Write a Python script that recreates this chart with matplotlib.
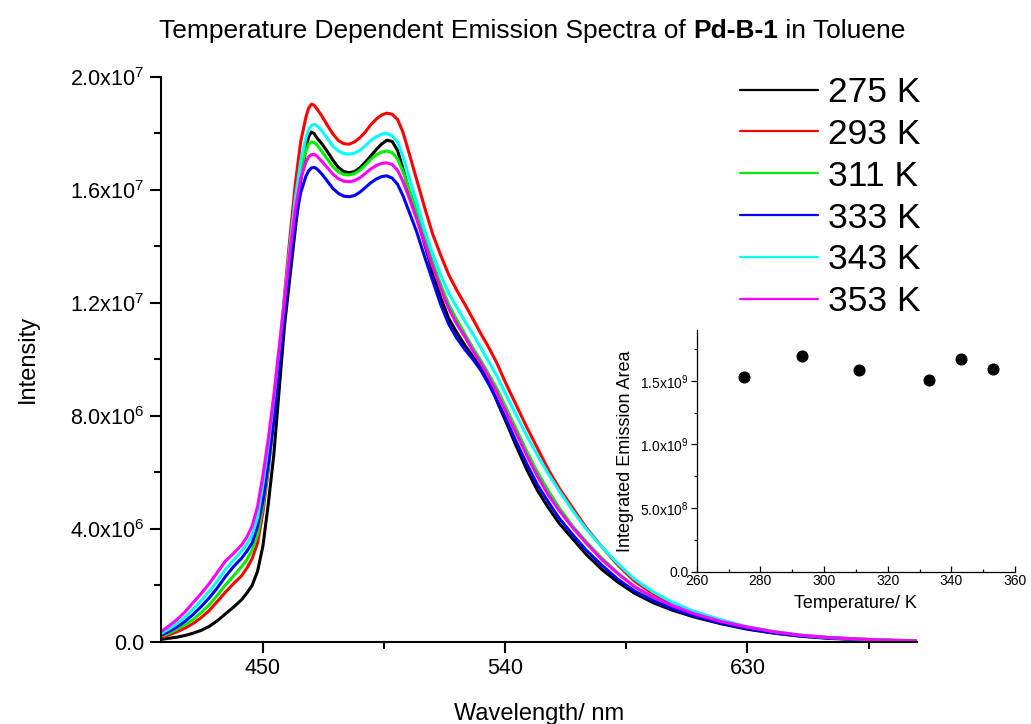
import matplotlib
matplotlib.use('Agg')
import matplotlib.pyplot as plt
from matplotlib.ticker import MultipleLocator
from matplotlib.offsetbox import TextArea, HPacker, AnchoredOffsetbox

plt.rcParams['font.family'] = ['Liberation Sans', 'DejaVu Sans']
plt.rcParams['mathtext.fontset'] = 'custom'
plt.rcParams['mathtext.rm'] = 'Liberation Sans'
plt.rcParams['mathtext.it'] = 'Liberation Sans:italic'
plt.rcParams['mathtext.bf'] = 'Liberation Sans:bold'
plt.rcParams['mathtext.sf'] = 'Liberation Sans'

# ---------------- data ----------------
wavelength = [412, 415, 418, 421, 424, 427, 430, 433, 436, 439,
              442, 444, 446, 448, 450, 452, 454, 456, 458, 460,
              462, 464, 466, 467, 468, 469, 470, 472, 474, 476,
              478, 480, 482, 484, 486, 488, 490, 492, 494, 496,
              498, 500, 502, 504, 507, 510, 513, 516, 519, 522,
              525, 528, 531, 534, 537, 540, 544, 548, 552, 556,
              560, 565, 570, 576, 582, 588, 595, 602, 610, 620,
              630, 640, 650, 660, 670, 680, 693]

# intensities in units of 1e6
i_275 = [0.08, 0.12, 0.16, 0.22, 0.30, 0.40, 0.54, 0.74, 0.98, 1.22,
         1.48, 1.72, 2.0, 2.5, 3.4, 4.9, 6.6, 8.9, 11.2, 12.9,
         14.6, 16.3, 17.5, 17.9, 18.05, 18.0, 17.85, 17.62, 17.35, 17.05,
         16.8, 16.65, 16.61, 16.65, 16.78, 16.98, 17.2, 17.42, 17.62, 17.76,
         17.72, 17.4, 16.75, 16.05, 15.1, 14.1, 13.1, 12.2, 11.45, 10.95,
         10.5, 10.1, 9.7, 9.2, 8.5, 7.85, 6.95, 6.1, 5.35, 4.75,
         4.2, 3.65, 3.1, 2.55, 2.1, 1.72, 1.38, 1.12, 0.88, 0.64,
         0.44, 0.3, 0.19, 0.12, 0.08, 0.05, 0.02]
i_293 = [0.14, 0.24, 0.35, 0.48, 0.64, 0.85, 1.1, 1.42, 1.75, 2.05,
         2.33, 2.6, 2.95, 3.5, 4.6, 6.1, 7.9, 10.0, 12.3, 14.3,
         16.2, 17.7, 18.6, 18.9, 19.04, 19.0, 18.88, 18.6, 18.28, 17.98,
         17.75, 17.64, 17.62, 17.7, 17.85, 18.05, 18.3, 18.5, 18.65, 18.72,
         18.68, 18.5, 18.05, 17.4, 16.4, 15.4, 14.45, 13.7, 13.0, 12.45,
         11.95, 11.43, 10.9, 10.4, 9.85, 9.2, 8.4, 7.6, 6.85, 6.1,
         5.45, 4.75, 4.05, 3.35, 2.7, 2.15, 1.7, 1.35, 1.05, 0.75,
         0.5, 0.34, 0.22, 0.15, 0.1, 0.06, 0.03]
i_311 = [0.18, 0.3, 0.44, 0.6, 0.78, 1.03, 1.3, 1.64, 2.0, 2.32,
         2.65, 2.9, 3.25, 3.8, 4.8, 6.2, 7.9, 9.9, 11.9, 13.7,
         15.4, 16.7, 17.4, 17.62, 17.7, 17.68, 17.6, 17.35, 17.08, 16.82,
         16.64, 16.55, 16.53, 16.58, 16.7, 16.88, 17.08, 17.24, 17.34, 17.38,
         17.32, 17.1, 16.65, 16.1, 15.3, 14.4, 13.45, 12.65, 11.95, 11.4,
         10.9, 10.4, 9.95, 9.45, 8.95, 8.35, 7.55, 6.75, 6.0, 5.35,
         4.75, 4.1, 3.55, 2.95, 2.42, 1.95, 1.55, 1.25, 0.98, 0.7,
         0.48, 0.32, 0.21, 0.14, 0.09, 0.055, 0.025]
i_333 = [0.22, 0.36, 0.52, 0.72, 0.96, 1.24, 1.55, 1.9, 2.3, 2.65,
         2.95, 3.2, 3.5, 4.1, 5.0, 6.3, 7.8, 9.7, 11.6, 13.3,
         14.8, 15.9, 16.5, 16.68, 16.78, 16.8, 16.75, 16.55, 16.3, 16.05,
         15.88, 15.78, 15.76, 15.8, 15.92, 16.08, 16.25, 16.38, 16.47, 16.5,
         16.42, 16.2, 15.8, 15.3, 14.55, 13.65, 12.8, 11.95, 11.25, 10.75,
         10.35, 10.0, 9.6, 9.1, 8.55, 7.95, 7.1, 6.3, 5.55, 4.95,
         4.38, 3.8, 3.25, 2.7, 2.2, 1.8, 1.45, 1.17, 0.92, 0.66,
         0.46, 0.31, 0.2, 0.13, 0.085, 0.05, 0.022]
i_343 = [0.28, 0.45, 0.64, 0.86, 1.15, 1.45, 1.78, 2.15, 2.55, 2.88,
         3.2, 3.45, 3.8, 4.4, 5.6, 7.0, 8.6, 10.4, 12.2, 14.0,
         15.7, 17.0, 17.85, 18.15, 18.28, 18.32, 18.28, 18.08, 17.82, 17.55,
         17.38, 17.29, 17.27, 17.3, 17.4, 17.56, 17.74, 17.88, 17.97, 18.0,
         17.92, 17.7, 17.2, 16.55, 15.6, 14.6, 13.75, 13.0, 12.35, 11.85,
         11.35, 10.9, 10.4, 9.9, 9.4, 8.8, 8.05, 7.3, 6.6, 5.95,
         5.35, 4.65, 4.0, 3.35, 2.75, 2.22, 1.76, 1.4, 1.08, 0.78,
         0.53, 0.36, 0.23, 0.15, 0.1, 0.06, 0.03]
i_353 = [0.35, 0.55, 0.78, 1.05, 1.38, 1.7, 2.05, 2.45, 2.85, 3.12,
         3.42, 3.7, 4.1, 4.8, 5.9, 7.2, 8.7, 10.4, 12.1, 13.8,
         15.3, 16.4, 17.0, 17.18, 17.25, 17.26, 17.2, 17.0, 16.78, 16.56,
         16.4, 16.31, 16.29, 16.33, 16.43, 16.58, 16.74, 16.86, 16.94, 16.96,
         16.9, 16.7, 16.3, 15.8, 15.0, 14.15, 13.3, 12.5, 11.8, 11.25,
         10.8, 10.3, 9.85, 9.35, 8.8, 8.2, 7.4, 6.6, 5.85, 5.2,
         4.65, 4.05, 3.5, 2.9, 2.4, 1.95, 1.58, 1.28, 1.0, 0.72,
         0.52, 0.35, 0.23, 0.15, 0.1, 0.06, 0.03]

series_labels = ['275 K', '293 K', '311 K', '333 K', '343 K', '353 K']
series_colors = ['#000000', '#ff0000', '#00ee00', '#0000ff', '#00ffff', '#ff00ff']
series_values = [i_275, i_293, i_311, i_333, i_343, i_353]

main_yticks = [0, 4e6, 8e6, 1.2e7, 1.6e7, 2.0e7]
main_yticklabels = ['0.0', '4.0x10$^{6}$', '8.0x10$^{6}$', '1.2x10$^{7}$',
                    '1.6x10$^{7}$', '2.0x10$^{7}$']
main_xticks = [450, 540, 630]

temperature = [275, 293, 311, 333, 343, 353]
integrated_area = [1.528e9, 1.693e9, 1.588e9, 1.509e9, 1.675e9, 1.594e9]
inset_yticks = [0, 5e8, 1.0e9, 1.5e9]
inset_yticklabels = ['0.0', '5.0x10$^{8}$', '1.0x10$^{9}$', '1.5x10$^{9}$']
inset_xticks = [260, 280, 300, 320, 340, 360]

# ---------------- figure ----------------
W, H = 1031, 724
fig = plt.figure(figsize=(W / 100, H / 100), dpi=100)

ax = fig.add_axes([160.7 / W, 1 - 641.7 / H, (917 - 160.7) / W, (641.7 - 77) / H])
for vals, lab, col in zip(series_values, series_labels, series_colors):
    ax.plot(wavelength, [v * 1e6 for v in vals], color=col, lw=2.2, label=lab,
            solid_joinstyle='round', solid_capstyle='round')

ax.set_xlim(412, 693)
ax.set_ylim(0, 2.0e7)
for s in ['top', 'right']:
    ax.spines[s].set_visible(False)
for s in ['left', 'bottom']:
    ax.spines[s].set_linewidth(1.5)
ax.set_xticks(main_xticks)
ax.xaxis.set_minor_locator(MultipleLocator(45))
ax.set_yticks(main_yticks, main_yticklabels)
ax.yaxis.set_minor_locator(MultipleLocator(2e6))
ax.tick_params(which='major', direction='out', length=7.7, width=1.5,
               labelsize=15.5, pad=4)
ax.tick_params(which='minor', direction='out', length=4.8, width=1.5)
ax.set_xlabel('Wavelength/ nm', fontsize=17, labelpad=17)
ax.set_ylabel('Intensity', fontsize=17, labelpad=22)

leg = ax.legend(loc='upper left', bbox_to_anchor=(740 / W, 1 - 76 / H),
                bbox_transform=fig.transFigure, frameon=False, fontsize=25.5,
                handlelength=2.2, handletextpad=0.28, labelspacing=0.25,
                borderpad=0, borderaxespad=0)
for h in leg.get_lines():
    h.set_linewidth(1.6)

# title with bold compound name
t1 = TextArea('Temperature Dependent Emission Spectra of ', textprops=dict(fontsize=19))
t2 = TextArea('Pd-B-1', textprops=dict(fontsize=19, fontweight='bold'))
t3 = TextArea(' in Toluene', textprops=dict(fontsize=19))
box = HPacker(children=[t1, t2, t3], align='baseline', pad=0, sep=0)
anch = AnchoredOffsetbox(loc='center', child=box, pad=0, borderpad=0, frameon=False,
                         bbox_to_anchor=(532 / W, 1 - 31 / H),
                         bbox_transform=fig.transFigure)
fig.add_artist(anch)

# ---------------- inset ----------------
ax2 = fig.add_axes([696.7 / W, 1 - 571.7 / H, (1015 - 696.7) / W, (571.7 - 330) / H])
ax2.patch.set_alpha(0)
ax2.plot(temperature, integrated_area, 'o', color='black', ms=7.7, ls='none')
ax2.set_xlim(260, 360)
ax2.set_ylim(0, 1.9e9)
for s in ['top', 'right']:
    ax2.spines[s].set_visible(False)
for s in ['left', 'bottom']:
    ax2.spines[s].set_linewidth(0.9)
ax2.set_xticks(inset_xticks)
ax2.xaxis.set_minor_locator(MultipleLocator(10))
ax2.set_yticks(inset_yticks, inset_yticklabels)
ax2.yaxis.set_minor_locator(MultipleLocator(2.5e8))
ax2.tick_params(axis='x', which='major', direction='in', length=4, width=0.9,
                labelsize=10, pad=2)
ax2.tick_params(axis='x', which='minor', direction='in', length=2.5, width=0.9)
ax2.tick_params(axis='y', which='major', direction='out', length=4, width=0.9,
                labelsize=10, pad=2)
ax2.tick_params(axis='y', which='minor', direction='out', length=2.5, width=0.9)
ax2.set_xlabel('Temperature/ K', fontsize=13, labelpad=5)
ax2.set_ylabel('Integrated Emission Area', fontsize=13, labelpad=4)

fig.savefig('out.png', dpi=100)
